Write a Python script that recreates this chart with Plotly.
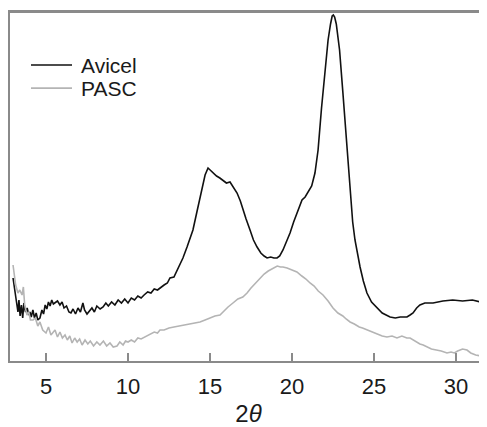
import plotly.graph_objects as go

avicel_x = [2.99, 3.05, 3.12, 3.2, 3.29, 3.35, 3.42, 3.5, 3.58, 3.65, 3.75, 3.85, 3.95, 4.02, 4.1, 4.2, 4.3, 4.4, 4.5, 4.63,
            4.75, 4.85, 4.95, 5.05, 5.15, 5.25, 5.35, 5.45, 5.55, 5.7, 5.85, 5.98, 6.1, 6.25, 6.4, 6.52, 6.65, 6.8, 6.95, 7.1,
            7.25, 7.35, 7.5, 7.65, 7.8, 7.95, 8.1, 8.3, 8.48, 8.65, 8.8, 9.0, 9.2, 9.4, 9.6, 9.8, 10.0, 10.2, 10.4, 10.6,
            10.8, 10.98, 11.2, 11.4, 11.6, 11.8, 12.0, 12.2, 12.4, 12.56, 12.8, 13.0, 13.17, 13.35, 13.6, 13.8, 13.96, 14.2, 14.39, 14.55,
            14.7, 14.88, 15.0, 15.18, 15.4, 15.6, 15.79, 16.0, 16.22, 16.45, 16.65, 16.85, 17.01, 17.2, 17.44, 17.65, 17.87, 18.1, 18.3, 18.48,
            18.7, 18.9, 19.09, 19.25, 19.45, 19.65, 19.88, 20.1, 20.3, 20.45, 20.61, 20.8, 21.0, 21.2, 21.4, 21.59, 21.8, 22.0, 22.2, 22.35,
            22.45, 22.52, 22.6, 22.7, 22.9, 23.1, 23.33, 23.5, 23.7, 23.84, 24.0, 24.15, 24.35, 24.57, 24.85, 25.18, 25.5, 25.98, 26.3, 26.6,
            27.01, 27.2, 27.38, 27.6, 27.8, 28.1, 28.6, 29.2, 29.8, 30.4, 31.0, 31.5, 31.9]
avicel_y = [83, 76, 71, 61, 49, 61, 45, 56, 43, 58, 49, 53, 46, 49, 44, 51, 43, 48, 41, 43,
            51, 47, 56, 52, 59, 55, 61, 57, 58, 60, 56, 59, 53, 55, 49, 48, 52, 47, 53, 49,
            58, 51, 47, 50, 53, 49, 55, 52, 54, 58, 55, 59, 56, 61, 58, 62, 58, 63, 61, 65,
            63, 66, 69, 68, 72, 71, 74, 76, 78, 83, 84, 91, 98, 103, 114, 123, 131, 149, 164, 176,
            186, 193, 191, 188, 185, 183, 181, 178, 179, 173, 168, 160, 151, 142, 131, 121, 114, 108, 105, 103,
            104, 103, 103, 105, 111, 119, 128, 139, 148, 155, 161, 164, 169, 175, 188, 211, 253, 291, 321, 337,
            345, 346, 344, 337, 311, 269, 221, 178, 139, 121, 105, 94, 80, 68, 59, 53, 48, 44, 43, 44,
            44, 46, 48, 53, 56, 58, 58, 60, 61, 60, 61, 59, 59]

pasc_x = [2.99, 3.05, 3.15, 3.29, 3.4, 3.54, 3.62, 3.7, 3.84, 3.95, 4.05, 4.21, 4.35, 4.5, 4.63, 4.8, 5.0, 5.15, 5.3, 5.55,
          5.7, 5.85, 6.0, 6.16, 6.3, 6.45, 6.59, 6.75, 6.9, 7.05, 7.2, 7.38, 7.55, 7.7, 7.9, 8.1, 8.29, 8.5, 8.7, 8.9,
          9.1, 9.33, 9.5, 9.7, 9.85, 10.0, 10.2, 10.4, 10.6, 10.8, 11.04, 11.2, 11.4, 11.6, 11.8, 11.95, 12.2, 12.5, 12.8, 13.1,
          13.35, 13.6, 13.9, 14.1, 14.39, 14.7, 15.0, 15.3, 15.61, 15.9, 16.1, 16.4, 16.7, 17.0, 17.26, 17.5, 17.8, 18.05, 18.3, 18.55,
          18.84, 19.1, 19.3, 19.45, 19.7, 20.0, 20.3, 20.6, 20.85, 21.1, 21.35, 21.6, 21.89, 22.2, 22.5, 22.8, 23.1, 23.3, 23.54, 23.8,
          24.1, 24.3, 24.57, 24.9, 25.2, 25.5, 25.79, 26.1, 26.4, 26.7, 27.0, 27.2, 27.5, 27.8, 28.0, 28.23, 28.5, 28.8, 29.1, 29.45,
          29.7, 29.9, 30.1, 30.4, 30.67, 30.9, 31.2, 31.5, 31.89]
pasc_y = [96, 86, 76, 68, 71, 66, 74, 56, 46, 49, 41, 41, 43, 35, 39, 31, 28, 34, 26, 31,
          24, 29, 23, 26, 21, 25, 18, 23, 19, 22, 16, 21, 17, 20, 15, 19, 16, 20, 15, 18,
          14, 15, 19, 16, 20, 19, 21, 19, 23, 22, 24, 26, 27, 29, 28, 31, 31, 33, 34, 35,
          36, 37, 38, 38, 39, 41, 43, 45, 46, 51, 54, 58, 62, 64, 68, 73, 78, 83, 87, 90,
          93, 95, 94, 94, 93, 91, 89, 85, 82, 78, 75, 70, 66, 60, 53, 48, 45, 42, 39, 37,
          34, 33, 31, 29, 27, 25, 24, 25, 23, 25, 23, 23, 20, 17, 16, 14, 12, 11, 10, 8,
          9, 8, 10, 12, 11, 8, 6, 5, 4]

x_ticks = [5, 10, 15, 20, 25, 30]
series_names = ["Avicel", "PASC"]
series_colors = ["#111111", "#b4b4b4"]

FONT = "Liberation Sans, Arial, sans-serif"
frame = "#8a8a8a"
txt = "#1a1a1a"

fig = go.Figure()
fig.add_trace(go.Scatter(x=avicel_x, y=avicel_y, mode="lines", name=series_names[0],
                         line=dict(color=series_colors[0], width=1.6), showlegend=False))
fig.add_trace(go.Scatter(x=pasc_x, y=pasc_y, mode="lines", name=series_names[1],
                         line=dict(color=series_colors[1], width=1.6), showlegend=False))

# top frame line
fig.add_shape(type="line", xref="paper", yref="paper", x0=0, x1=1, y0=1, y1=1,
              line=dict(color=frame, width=2), layer="above")

# manual legend (paper coordinates)
leg_y = [0.848, 0.782]
for name, col, yy in zip(series_names, series_colors, leg_y):
    fig.add_shape(type="line", xref="paper", yref="paper", x0=0.044, x1=0.130, y0=yy, y1=yy,
                  line=dict(color=col, width=1.6))
    fig.add_annotation(xref="paper", yref="paper", x=0.145, y=yy, text=name, showarrow=False,
                       xanchor="left", yanchor="middle",
                       font=dict(size=21, family=FONT, color=txt))

fig.update_layout(
    width=479, height=419,
    margin=dict(l=2, r=0, t=4, b=66, autoexpand=False),
    plot_bgcolor="white", paper_bgcolor="white",
    font=dict(family=FONT, color=txt),
    showlegend=False,
    xaxis=dict(range=[2.805, 31.89], tickvals=x_ticks, ticks="inside", ticklen=8,
               tickwidth=1.5, tickcolor=frame, showline=True, linecolor=frame,
               linewidth=2, mirror=True, showgrid=False, zeroline=False,
               ticklabelstandoff=5,
               tickfont=dict(size=22, family=FONT, color=txt),
               title=dict(text="2<i>θ</i>", font=dict(size=24, family=FONT, color=txt),
                          standoff=24)),
    yaxis=dict(range=[0, 349], showticklabels=False, ticks="", showline=True,
               linecolor=frame, linewidth=2, showgrid=False, zeroline=False),
)

fig.write_html("out.html")
